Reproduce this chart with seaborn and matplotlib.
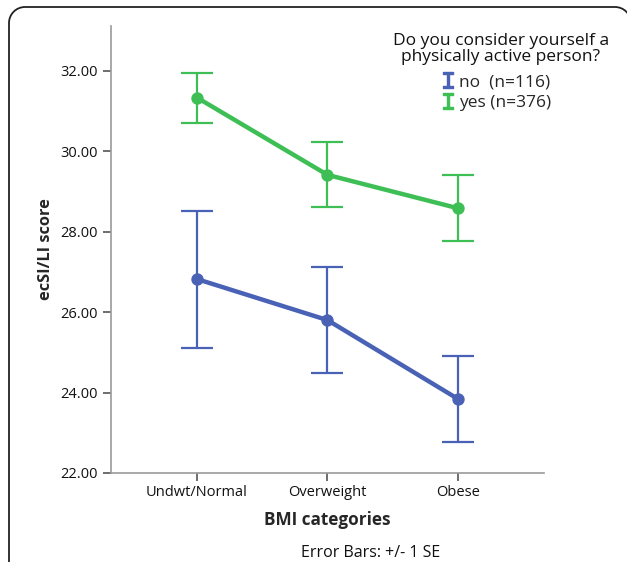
import matplotlib
matplotlib.use("Agg")
import matplotlib.pyplot as plt
import numpy as np
import pandas as pd
import seaborn as sns
from matplotlib.lines import Line2D
from matplotlib.patches import PathPatch
from matplotlib.path import Path
from matplotlib.ticker import FormatStrFormatter
from matplotlib.transforms import IdentityTransform

# ──── data ────
bmi_categories = ["Undwt/Normal", "Overweight", "Obese"]
groups = ["no", "yes"]
group_labels = ["no  (n=116)", "yes (n=376)"]

no_mean = [26.82, 25.80, 23.84]
no_low = [25.11, 24.48, 22.78]
no_high = [28.51, 27.12, 24.91]

yes_mean = [31.33, 29.41, 28.58]
yes_low = [30.71, 28.60, 27.76]
yes_high = [31.95, 30.23, 29.40]

y_ticks = [22, 24, 26, 28, 30, 32]

colors = {"no": "#4a62b6", "yes": "#3dbf55"}

df = pd.DataFrame({
    "bmi": bmi_categories * 2,
    "active": ["no"] * 3 + ["yes"] * 3,
    "score": no_mean + yes_mean,
})

# ──── style ────
sns.set_theme(style="white")
plt.rcParams["font.family"] = ["Open Sans", "DejaVu Sans"]
plt.rcParams["mathtext.fontset"] = "dejavusans"

W, H = 627, 562
fig = plt.figure(figsize=(W / 100, H / 100), dpi=100)

# rounded frame (pixel coords, origin bottom-left); right side runs off canvas
x0, x1, top, r = 9, 631, H - 7, 16
k = 0.5523 * r
verts = [(x0, -10), (x0, top - r),
         (x0, top - r + k), (x0 + r - k, top), (x0 + r, top),
         (x1 - r, top),
         (x1 - r + k, top), (x1, top - r + k), (x1, top - r),
         (x1, -10)]
codes = [Path.MOVETO, Path.LINETO,
         Path.CURVE4, Path.CURVE4, Path.CURVE4,
         Path.LINETO,
         Path.CURVE4, Path.CURVE4, Path.CURVE4,
         Path.LINETO]
fig.patches.append(PathPatch(Path(verts, codes), transform=IdentityTransform(),
                             fill=False, edgecolor="#222222", linewidth=1.3))

ax = fig.add_axes([110.7 / W, 1 - 473 / H, (544 - 110.7) / W, (473 - 26) / H])

# error bars first so points sit on top
for g, mean, lo, hi in [("no", no_mean, no_low, no_high),
                        ("yes", yes_mean, yes_low, yes_high)]:
    mean = np.array(mean)
    ax.errorbar(np.arange(len(bmi_categories)), mean,
                yerr=[mean - np.array(lo), np.array(hi) - mean],
                fmt="none", ecolor=colors[g], elinewidth=1.6,
                capsize=11.5, capthick=1.6, zorder=2)

sns.pointplot(data=df, x="bmi", y="score", hue="active", order=bmi_categories,
              hue_order=groups, palette=colors, errorbar=None, markers="o",
              markersize=6.5, linewidth=3.2, legend=False, ax=ax, zorder=3)

ax.set_xlim(-0.661, 2.659)
ax.set_ylim(22, 33.11)
ax.set_yticks(y_ticks)
ax.yaxis.set_major_formatter(FormatStrFormatter("%.2f"))

for side in ["top", "right"]:
    ax.spines[side].set_visible(False)
for side in ["left", "bottom"]:
    ax.spines[side].set_color("#999999")
    ax.spines[side].set_linewidth(1.2)

ax.tick_params(axis="both", which="major", direction="out", length=6,
               width=1.2, color="#555555", labelsize=10.5, labelcolor="#111111",
               left=True, bottom=True, pad=3)

ax.set_xlabel("BMI categories", fontsize=12.3, fontweight="bold")
ax.set_ylabel("ecSI/LI score", fontsize=11.8, fontweight="bold")
ax.xaxis.set_label_coords(0.5, -0.085)
ax.yaxis.set_label_coords(-0.13, 0.5)

fig.text(371 / W, 1 - 553 / H, "Error Bars: +/- 1 SE", ha="center", va="center",
         fontsize=11.5, color="#111111")

# legend title as its own text, entries below it
fig.text(501 / W, 1 - 49 / H, "Do you consider yourself a\nphysically active person?",
         ha="center", va="center", multialignment="center", linespacing=1.0,
         fontsize=12.5, color="#111111")

handles = [Line2D([0], [0], color=colors[g], marker=r"$\mathtt{I}$",
                  linestyle="none", markersize=12) for g in groups]
fig.legend(handles, group_labels, loc="upper center",
           bbox_to_anchor=(497 / W, 1 - 74 / H),
           frameon=False, fontsize=12.5,
           handlelength=0.6, handletextpad=0.35, labelspacing=0.28,
           borderaxespad=0.0, borderpad=0.0)

fig.savefig("out.png", dpi=100)
